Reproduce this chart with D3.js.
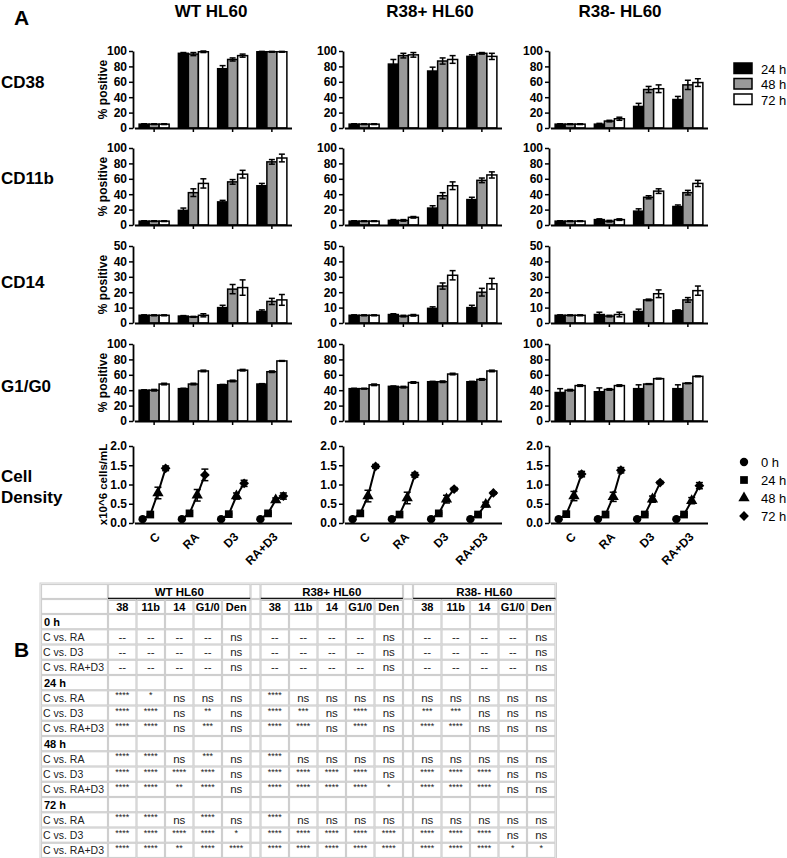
<!DOCTYPE html>
<html><head><meta charset="utf-8">
<script src="https://cdn.jsdelivr.net/npm/d3@7"></script>
<style>
body{margin:0;background:#fff;}
text{font-family:"Liberation Sans",Arial,Helvetica,sans-serif;}
</style>
</head><body>
<svg id="chart" width="787" height="858"></svg>
<script>
// ---------------- DATA ----------------
const groups = ["WT HL60", "R38+ HL60", "R38- HL60"];
const categories = ["C", "RA", "D3", "RA+D3"];
const barSeries = ["24 h", "48 h", "72 h"];
const timePoints = ["0 h", "24 h", "48 h", "72 h"];
const markers = ["CD38", "CD11b", "CD14", "G1/G0"];
const markerMax = [100, 100, 50, 100];
const pctTicks = [0, 20, 40, 60, 80, 100];
const cd14Ticks = [0, 10, 20, 30, 40, 50];
const densityTicks = [0, 0.5, 1.0, 1.5, 2.0];

// [group][category][24h,48h,72h]
const cd38Mean = [
  [[5,5,5],[97,96,99],[77,89,94],[99,99,99]],
  [[5,5,5],[83,94,95],[74,87,89],[93,97,93]],
  [[5,5,5],[5,9,12],[28,50,51],[37,56,59]]
];
const cd38Err = [
  [[0.5,0.5,0.5],[1,2,1],[4,2,2],[0.5,0.5,0.5]],
  [[0.5,0.5,0.5],[6,3,3],[5,4,5],[2,1,4]],
  [[0.5,0.5,0.5],[1,1,2],[4,4,5],[4,6,5]]
];
const cd11bMean = [
  [[5,5,5],[19,42,54],[30,56,66],[51,82,87]],
  [[5,5,5],[6,6,10],[22,38,51],[33,58,65]],
  [[5,5,5],[7,5,7],[18,36,44],[24,42,54]]
];
const cd11bErr = [
  [[0.5,0.5,0.5],[3,5,6],[2,3,5],[3,3,5]],
  [[0.5,0.5,0.5],[1,1,1],[3,4,5],[3,3,4]],
  [[0.5,0.5,0.5],[1,1,1],[3,2,3],[2,3,4]]
];
const cd14Mean = [
  [[5,5,5],[4.5,4,5],[10,22,23],[7.5,14,15]],
  [[5,5,5],[5.5,4.5,5],[9.5,24,31],[10,20,25.5]],
  [[5,5,5],[5.5,4.5,5.5],[7.5,15,19],[8,15,21]]
];
const cd14Err = [
  [[0.3,0.3,0.3],[0.3,0.3,1],[1.5,3,5],[1,2,3.5]],
  [[0.3,0.3,0.3],[0.5,0.5,0.5],[1,2,3],[1.5,2.5,3.5]],
  [[0.3,0.3,0.3],[1.5,0.5,1.5],[1.5,0.5,2.5],[0.5,1.5,3]]
];
const g1Mean = [
  [[40,40,48],[42,48,65],[47,52,66],[48,64,78]],
  [[42,42,47],[45,44,50],[51,51,61],[51,54,65]],
  [[37,40,46],[38,41,46],[42,48,55],[42,49,58]]
];
const g1Err = [
  [[0.5,1,1],[0.5,1,1],[0.5,1,1],[0.5,1,0.5]],
  [[0.5,0.5,1],[0.5,1,1],[0.5,1,1],[0.5,1,1]],
  [[5,1,1],[5,1,1],[5,0.5,0.5],[5,0.5,0.5]]
];
// [group][category][0h,24h,48h,72h]
const densityMean = [
  [[0.1,0.22,0.78,1.42],[0.1,0.25,0.72,1.25],[0.1,0.23,0.7,1.03],[0.1,0.25,0.6,0.7]],
  [[0.1,0.25,0.7,1.47],[0.1,0.22,0.65,1.25],[0.1,0.25,0.62,0.88],[0.1,0.22,0.48,0.78]],
  [[0.1,0.23,0.7,1.27],[0.1,0.22,0.68,1.37],[0.1,0.22,0.62,1.05],[0.1,0.22,0.58,0.97]]
];
const densityErr = [
  [[0.01,0.02,0.15,0.06],[0.01,0.02,0.15,0.15],[0.01,0.02,0.08,0.08],[0.01,0.02,0.05,0.08]],
  [[0.01,0.02,0.15,0.05],[0.01,0.02,0.15,0.06],[0.01,0.02,0.1,0.04],[0.01,0.02,0.06,0.03]],
  [[0.01,0.02,0.12,0.07],[0.01,0.02,0.12,0.07],[0.01,0.02,0.08,0.03],[0.01,0.02,0.08,0.08]]
];

// Table B
const tableCols = ["38", "11b", "14", "G1/0", "Den"];
const tableTimes = ["0 h", "24 h", "48 h", "72 h"];
const comparisons = ["C vs. RA", "C vs. D3", "C vs. RA+D3"];
const sigWT = [
  ["--","--","--","--","ns"],["--","--","--","--","ns"],["--","--","--","--","ns"],
  ["****","*","ns","ns","ns"],["****","****","ns","**","ns"],["****","****","ns","***","ns"],
  ["****","****","ns","***","ns"],["****","****","****","****","ns"],["****","****","**","****","ns"],
  ["****","****","ns","****","ns"],["****","****","****","****","*"],["****","****","**","****","****"]
];
const sigR38pos = [
  ["--","--","--","--","ns"],["--","--","--","--","ns"],["--","--","--","--","ns"],
  ["****","ns","ns","ns","ns"],["****","***","ns","****","ns"],["****","****","ns","****","ns"],
  ["****","ns","ns","ns","ns"],["****","****","****","****","ns"],["****","****","****","****","*"],
  ["****","ns","ns","ns","ns"],["****","****","****","****","****"],["****","****","****","****","****"]
];
const sigR38neg = [
  ["--","--","--","--","ns"],["--","--","--","--","ns"],["--","--","--","--","ns"],
  ["ns","ns","ns","ns","ns"],["***","***","ns","ns","ns"],["****","****","ns","ns","ns"],
  ["ns","ns","ns","ns","ns"],["****","****","****","ns","ns"],["****","****","****","ns","ns"],
  ["ns","ns","ns","ns","ns"],["****","****","****","ns","ns"],["****","****","****","*","*"]
];

// ---------------- LAYOUT ----------------
const svg = d3.select("#chart");
svg.append("rect").attr("width",787).attr("height",858).attr("fill","#fff");

const groupX = [133, 343, 549];
const plotW = 157;
const rowTop = [51, 148, 246, 344, 446];
const plotH = 77;
const barColors = {"24 h":"#000", "48 h":"#999", "72 h":"#fff"};

svg.append("text").attr("x",14).attr("y",25).attr("font-size",21).attr("font-weight","bold").text("A");
const titleX = [211, 430, 620];
groups.forEach((g,i)=>{
  svg.append("text").attr("x",titleX[i]).attr("y",17).attr("text-anchor","middle")
    .attr("font-size",17).attr("font-weight","bold").text(g);
});
const rowLabelY = [88, 184, 288, 392];
markers.forEach((m,i)=>{
  svg.append("text").attr("x",1).attr("y",rowLabelY[i]).attr("font-size",17).attr("font-weight","bold").text(m);
});
svg.append("text").attr("x",1).attr("y",482).attr("font-size",17).attr("font-weight","bold").text("Cell");
svg.append("text").attr("x",1).attr("y",503).attr("font-size",17).attr("font-weight","bold").text("Density");

function styleAxis(sel){
  sel.selectAll("path.domain").attr("stroke","#000").attr("stroke-width",1.8);
  sel.selectAll(".tick line").attr("stroke","#000").attr("stroke-width",1.5);
  sel.selectAll(".tick text").attr("font-size",12).attr("font-weight","bold")
    .attr("font-family","'Liberation Sans',Arial,sans-serif").attr("fill","#000");
}

const barMeans = [cd38Mean, cd11bMean, cd14Mean, g1Mean];
const barErrs = [cd38Err, cd11bErr, cd14Err, g1Err];

function xScaleFor(gi){
  return d3.scaleBand().domain(categories).range([groupX[gi]+1.5, groupX[gi]+plotW+1.5]);
}
const inner = d3.scaleBand().domain(barSeries).range([-15, 15]);

function errBar(g, x, y, yLo, yHi, cap){
  g.append("line").attr("x1",x).attr("x2",x).attr("y1",yLo).attr("y2",yHi).attr("stroke","#000").attr("stroke-width",1.5);
  g.append("line").attr("x1",x-cap).attr("x2",x+cap).attr("y1",yHi).attr("y2",yHi).attr("stroke","#000").attr("stroke-width",1.5);
  g.append("line").attr("x1",x-cap).attr("x2",x+cap).attr("y1",yLo).attr("y2",yLo).attr("stroke","#000").attr("stroke-width",1.5);
}

markers.forEach((m, ri)=>{
  const ticks = markerMax[ri] === 50 ? cd14Ticks : pctTicks;
  const y = d3.scaleLinear().domain([0, markerMax[ri]]).range([rowTop[ri]+plotH, rowTop[ri]]);
  groups.forEach((gname, gi)=>{
    const x = xScaleFor(gi);
    const g = svg.append("g");
    categories.forEach((c, ci)=>{
      barSeries.forEach((s, si)=>{
        const v = barMeans[ri][gi][ci][si];
        const bx = x(c) + x.bandwidth()/2 + inner(s);
        g.append("rect").attr("x",bx).attr("y",y(v)).attr("width",inner.bandwidth())
          .attr("height",y(0)-y(v)).attr("fill",barColors[s]).attr("stroke","#000").attr("stroke-width",1.5);
      });
      barSeries.forEach((s, si)=>{
        const v = barMeans[ri][gi][ci][si];
        const e = barErrs[ri][gi][ci][si];
        const cx = x(c) + x.bandwidth()/2 + inner(s) + inner.bandwidth()/2;
        errBar(g, cx, y(v), y(Math.max(0,v-e)), y(v+e), 3);
      });
    });
    const ya = svg.append("g").attr("transform",`translate(${groupX[gi]},0)`)
      .call(d3.axisLeft(y).tickValues(ticks).tickSize(4).tickSizeOuter(0).tickPadding(2));
    styleAxis(ya);
    const xa = svg.append("g").attr("transform",`translate(0,${rowTop[ri]+plotH})`)
      .call(d3.axisBottom(x).tickSize(4).tickSizeOuter(0).tickFormat(""));
    styleAxis(xa);
    if (gi === 0){
      svg.append("text").attr("transform",`translate(107,${rowTop[ri]+plotH/2}) rotate(-90)`)
        .attr("text-anchor","middle").attr("font-size",12).attr("font-weight","bold").text("% positive");
    }
  });
});

// Density row
const yD = d3.scaleLinear().domain([0, 2]).range([rowTop[4]+plotH, rowTop[4]]);
const tp = d3.scalePoint().domain(timePoints).range([-11.5, 11.5]);
const symbolFor = {
  "0 h": d3.symbol().type(d3.symbolCircle).size(55),
  "24 h": d3.symbol().type(d3.symbolSquare).size(60),
  "48 h": d3.symbol().type(d3.symbolTriangle).size(55),
  "72 h": d3.symbol().type(d3.symbolSquare).size(48)
};
groups.forEach((gname, gi)=>{
  const x = xScaleFor(gi);
  const g = svg.append("g");
  categories.forEach((c, ci)=>{
    const pts = timePoints.map((t, ti)=>({
      t, x: x(c)+x.bandwidth()/2+tp(t), v: densityMean[gi][ci][ti], e: densityErr[gi][ci][ti]
    }));
    g.append("path").datum(pts).attr("fill","none").attr("stroke","#000").attr("stroke-width",2)
      .attr("d", d3.line().x(d=>d.x).y(d=>yD(d.v)));
    pts.forEach(p=>{
      errBar(g, p.x, yD(p.v), yD(p.v-p.e), yD(p.v+p.e), 3.5);
      g.append("path").attr("d", symbolFor[p.t]())
        .attr("transform", `translate(${p.x},${yD(p.v)})` + (p.t==="72 h" ? " rotate(45)" : ""))
        .attr("fill","#000");
    });
  });
  const ya = svg.append("g").attr("transform",`translate(${groupX[gi]},0)`)
    .call(d3.axisLeft(yD).tickValues(densityTicks).tickSize(4).tickSizeOuter(0).tickPadding(2).tickFormat(d3.format(".1f")));
  styleAxis(ya);
  const xa = svg.append("g").attr("transform",`translate(0,${rowTop[4]+plotH})`)
    .call(d3.axisBottom(x).tickSize(0).tickSizeOuter(0).tickPadding(8));
  styleAxis(xa);
  xa.selectAll(".tick text").attr("text-anchor","end").attr("dy","0.35em")
    .attr("transform","translate(-2,6) rotate(-45)");
  if (gi === 0){
    svg.append("text").attr("transform",`translate(107,${rowTop[4]+plotH/2}) rotate(-90)`)
      .attr("text-anchor","middle").attr("font-size",11.5).attr("font-weight","bold").text("x10^6 cells/mL");
  }
});

// Legends
barSeries.forEach((s, i)=>{
  svg.append("rect").attr("x",734).attr("y",63+i*15.5).attr("width",18).attr("height",10.5)
    .attr("fill",barColors[s]).attr("stroke","#000").attr("stroke-width",1.5);
  svg.append("text").attr("x",761).attr("y",73.5+i*15.5).attr("font-size",13).text(s);
});
timePoints.forEach((t, i)=>{
  const cy = 462 + i*18;
  svg.append("path").attr("d", symbolFor[t]())
    .attr("transform", `translate(744,${cy})` + (t==="72 h" ? " rotate(45)" : "")).attr("fill","#000");
  svg.append("text").attr("x",761).attr("y",cy+4.5).attr("font-size",13).text(t);
});

// ---------------- TABLE B ----------------
svg.append("text").attr("x",14).attr("y",657).attr("font-size",21).attr("font-weight","bold").text("B");

const tLeft = 41, labelW = 67, colW = 28.5, gapW = 10;
const tTop = 584, headH = 15, rowH = 15.25;
const gridColor = "#cfcfcf";
const sigTables = [sigWT, sigR38pos, sigR38neg];
const colDefs = [{x: tLeft, w: labelW, type: "label"}];
let cx = tLeft + labelW;
groups.forEach((g, gi)=>{
  tableCols.forEach((c, ci)=>{ colDefs.push({x: cx, w: colW, type: "data", g: gi, c: ci}); cx += colW; });
  if (gi < groups.length-1){ colDefs.push({x: cx, w: gapW, type: "gap"}); cx += gapW; }
});
const tRight = cx;
const tbl = svg.append("g");
function cell(x, y, w, h){
  tbl.append("rect").attr("x",x+0.5).attr("y",y+0.5).attr("width",w-1).attr("height",h-1)
    .attr("fill","none").attr("stroke",gridColor).attr("stroke-width",1.2);
}
tbl.append("rect").attr("x",tLeft-1).attr("y",tTop-1).attr("width",tRight-tLeft+2)
  .attr("height",headH*2+rowH*16+2).attr("fill","none").attr("stroke",gridColor).attr("stroke-width",1);

cell(tLeft, tTop, labelW, headH);
groups.forEach((g, gi)=>{
  const cols = colDefs.filter(d=>d.type==="data" && d.g===gi);
  const x0 = cols[0].x, x1 = cols[cols.length-1].x + colW;
  cell(x0, tTop, x1-x0, headH);
  tbl.append("text").attr("x",(x0+x1)/2).attr("y",tTop+11.5).attr("text-anchor","middle")
    .attr("font-size",11.5).attr("font-weight","bold").text(g);
  tbl.append("line").attr("x1",x0).attr("x2",x1).attr("y1",tTop+headH).attr("y2",tTop+headH)
    .attr("stroke","#000").attr("stroke-width",2.5);
});
colDefs.filter(d=>d.type==="gap").forEach(d=>cell(d.x, tTop, d.w, headH));
const y2 = tTop + headH;
colDefs.forEach(d=>{
  cell(d.x, y2, d.w, headH);
  if (d.type==="data"){
    tbl.append("text").attr("x",d.x+d.w/2).attr("y",y2+11.5).attr("text-anchor","middle")
      .attr("font-size",11).attr("font-weight","bold").text(tableCols[d.c]);
  }
});
let ry = y2 + headH;
tableTimes.forEach((t, ti)=>{
  colDefs.forEach(d=>cell(d.x, ry, d.w, rowH));
  tbl.append("text").attr("x",tLeft+3).attr("y",ry+11.5).attr("font-size",11).attr("font-weight","bold").text(t);
  ry += rowH;
  comparisons.forEach((cmp, k)=>{
    const r = ti*3 + k;
    colDefs.forEach(d=>{
      cell(d.x, ry, d.w, rowH);
      if (d.type==="data"){
        const v = sigTables[d.g][r][d.c];
        const isStar = v.indexOf("*") === 0;
        tbl.append("text").attr("x",d.x+d.w/2).attr("y", isStar ? ry+8 : ry+11.5)
          .attr("text-anchor","middle").attr("font-size", isStar ? 9 : 11.5)
          .attr("fill","#222").text(v);
      }
    });
    tbl.append("text").attr("x",tLeft+2).attr("y",ry+11.5).attr("font-size",10.5).attr("fill","#222").text(cmp);
    ry += rowH;
  });
});
</script>
</body></html>
